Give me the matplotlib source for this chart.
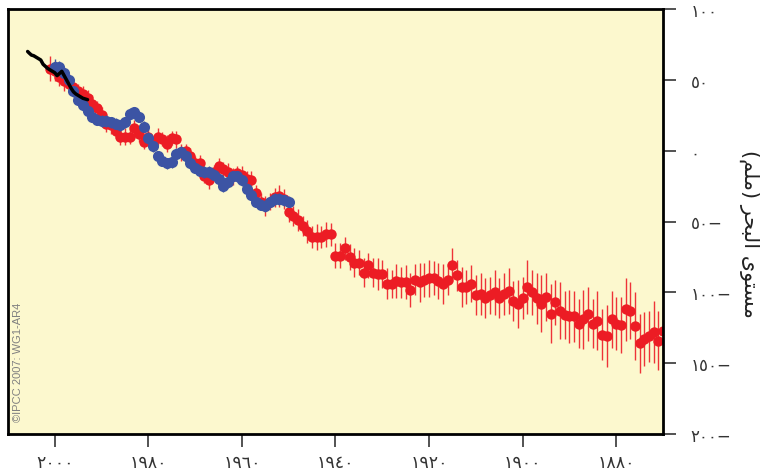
import matplotlib
matplotlib.use("Agg")
import matplotlib.pyplot as plt
import numpy as np

# Church & White (red), 1870-2001, mm
red_years = list(range(1870, 2002))
red_level = [
    -127, -134, -128, -131, -133, -136, -124, -113, -112, -123,   # 1870s
    -122, -119, -131, -130, -120, -122, -115, -119, -122, -117,   # 1880s
    -117, -116, -113, -107, -115, -103, -108, -104, -100, -96,    # 1890s
    -104, -108, -106, -99, -101, -104, -100, -102, -104, -101,    # 1900s
    -102, -94, -96, -96, -88, -81, -91, -94, -92, -90,            # 1910s
    -90, -91, -93, -91, -98, -93, -93, -92, -94, -94,             # 1920s
    -87, -87, -86, -81, -86, -79, -79, -75, -69, -74,             # 1930s
    -74, -59, -59, -61, -61, -61, -57, -53, -49, -46,             # 1940s
    -43, -34, -32, -33, -36, -39, -36, -30, -21, -20,             # 1950s
    -17, -16, -18, -15, -13, -11, -15, -21, -18, -9,              # 1960s
    -9, -4, 0, -1, 8, 9, 5, 8, 10, 5,                             # 1970s
    10, 6, 12, 16, 10, 10, 10, 14, 18, 19,                        # 1980s
    25, 30, 33, 37, 40, 42, 45, 47, 49, 52,                       # 1990s
    56, 58,
]
red_err = [
    17, 21, 22, 18, 19, 21, 24, 20, 22, 20,
    19, 20, 22, 18, 21, 17, 19, 21, 17, 18,
    19, 17, 20, 16, 21, 17, 20, 18, 16, 19,
    15, 17, 14, 16, 15, 14, 16, 13, 14, 15,
    14, 13, 12, 14, 11, 12, 11, 14, 13, 12,
    13, 12, 14, 11, 12, 12, 11, 12, 10, 11,
    10, 11, 10, 9, 10, 9, 10, 9, 8, 9,
    9, 8, 9, 8, 9, 8, 8, 7, 8, 7,
    7, 7, 8, 7, 6, 7, 6, 6, 7, 6,
    6, 5, 6, 6, 5, 6, 5, 6, 5, 6,
    5, 6, 5, 6, 6, 5, 6, 5, 6, 5,
    6, 5, 6, 6, 5, 6, 6, 5, 6, 6,
    6, 5, 6, 6, 6, 5, 6, 7, 7, 6,
    7, 9,
]

# Holgate & Woodworth (blue), 1950-2000, mm
blue_years = list(range(1950, 2001))
blue_level = [
    -36, -35, -34, -34, -36, -39, -38, -36, -31, -27,
    -21, -18, -18, -22, -25, -20, -17, -15, -15, -14,
    -12, -9, -4, -1, -2, -8, -9, -7, -4, 3,
    9, 17, 24, 27, 26, 20, 18, 19, 20, 21,
    21, 22, 24, 28, 32, 36, 42, 50, 55, 59,
    59,
]
blue_err = [4] * 50 + [6]

# satellite altimetry (black), mm
sat_years = [1993.0, 1993.5, 1994.0, 1994.5, 1995.0, 1995.5, 1996.0, 1996.5,
             1997.0, 1997.5, 1998.0, 1998.5, 1999.0, 1999.5, 2000.0, 2000.5,
             2001.0, 2001.5, 2002.0, 2002.5, 2003.0, 2003.5, 2004.0, 2004.5,
             2005.0, 2005.5, 2005.8]
sat_level = [36, 36.5, 37, 38, 39, 40, 41.5, 44, 47, 50, 53, 56, 54.5, 53,
             55, 56, 57, 58, 59.5, 61, 64, 65, 66, 67, 67.5, 69, 70]

x_ticks = [2000, 1980, 1960, 1940, 1920, 1900, 1880]
y_ticks = [100, 50, 0, -50, -100, -150, -200]

AR_DIGITS = str.maketrans("0123456789", "٠١٢٣٤٥٦٧٨٩")


def ar_num(v):
    s = str(abs(v)).translate(AR_DIGITS)
    return s + "−" if v < 0 else s


# "مستوى البحر (ملم)" written in visual order with presentation forms (no shaping in matplotlib)
ylabel = "(\uFEE2\uFEE0\uFEE3) \uFEAE\uFEA4\uFE92\uFEDF\uFE8D \uFEEF\uFEEE\uFE98\uFEB4\uFEE3"

fig = plt.figure(figsize=(7.6, 4.77), dpi=100)
ax = fig.add_axes([8 / 760, 1 - 435 / 477, 655 / 760, 425 / 477])
ax.set_facecolor("#FCF8CE")

red = "#EC1C24"
blue = "#3C54A4"

ax.errorbar(red_years, red_level, yerr=red_err, fmt="o", color=red, ecolor="#EE3338",
            ms=7.5, mew=0, elinewidth=1, capsize=2.5, capthick=1, zorder=2)
ax.errorbar(blue_years, blue_level, yerr=blue_err, fmt="o", color=blue, ecolor=blue,
            ms=8, mew=0, elinewidth=1, capsize=2.5, capthick=1, zorder=3)
ax.plot(sat_years, sat_level, color="black", lw=2.5, solid_capstyle="round", zorder=4)

ax.set_xlim(2010, 1870)
ax.set_ylim(-200, 100)

ax.set_xticks(x_ticks)
ax.set_xticklabels([ar_num(v) for v in x_ticks])
ax.yaxis.tick_right()
ax.set_yticks(y_ticks)
ax.set_yticklabels([ar_num(v) for v in y_ticks])

ax.tick_params(axis="x", direction="out", length=9, width=1.3, color="#444444",
               pad=5, labelsize=12.5, labelcolor="#333333")
ax.tick_params(axis="y", direction="out", length=9, width=1.3, color="#444444",
               pad=11, labelsize=12, labelcolor="#333333")
for s in ax.spines.values():
    s.set_linewidth(2)
    s.set_color("black")

fig.text(750 / 760, 1 - 234 / 477, ylabel, rotation=270, ha="center", va="center",
         fontsize=15, color="#222222")
ax.text(0.016, 0.17, "©IPCC 2007: WG1-AR4", transform=ax.transAxes, rotation=90,
        ha="center", va="center", fontsize=8, color="#808080", family="Liberation Sans")

fig.savefig("out.png", dpi=100)
